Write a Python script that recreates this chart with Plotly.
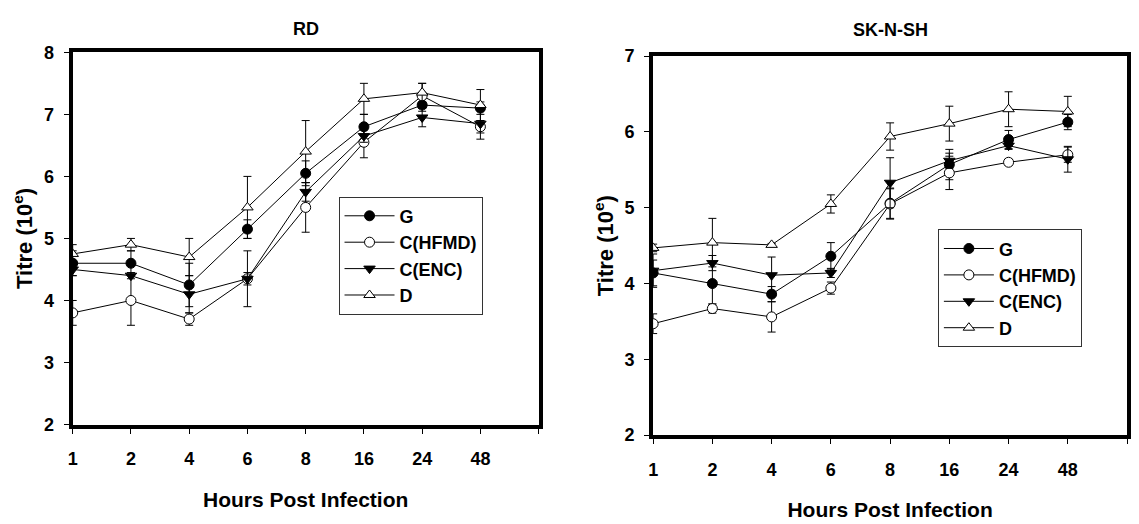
import plotly.graph_objects as go

# Sampling times (hours post infection)
hours = ["1", "2", "4", "6", "8", "16", "24", "48"]
positions = list(range(len(hours)))

# RD cells: mean titre and error per strain
rd_g = [4.6, 4.6, 4.25, 5.15, 6.05, 6.8, 7.15, 7.1]
rd_g_err = [0.2, 0.2, 0.35, 0.15, 0.2, 0.2, 0.1, 0.1]
rd_hfmd = [3.8, 4.0, 3.7, 4.35, 5.5, 6.55, 7.3, 6.8]
rd_hfmd_err = [0.2, 0.4, 0.1, 0.45, 0.4, 0.25, 0.2, 0.1]
rd_enc = [4.5, 4.4, 4.1, 4.35, 5.75, 6.65, 6.95, 6.85]
rd_enc_err = [0.1, 0.05, 0.3, 0.1, 0.15, 0.1, 0.15, 0.25]
rd_d = [4.75, 4.9, 4.7, 5.5, 6.4, 7.25, 7.35, 7.15]
rd_d_err = [0.15, 0.1, 0.3, 0.5, 0.5, 0.25, 0.15, 0.25]

# SK-N-SH cells: mean titre and error per strain
sk_g = [4.14, 4.0, 3.86, 4.36, 5.06, 5.57, 5.9, 6.13]
sk_g_err = [0.17, 0.27, 0.1, 0.18, 0.2, 0.2, 0.12, 0.1]
sk_hfmd = [3.47, 3.67, 3.56, 3.94, 5.05, 5.46, 5.6, 5.7]
sk_hfmd_err = [0.13, 0.06, 0.2, 0.08, 0.2, 0.22, 0.04, 0.1]
sk_enc = [4.17, 4.27, 4.11, 4.14, 5.33, 5.62, 5.82, 5.64]
sk_enc_err = [0.22, 0.1, 0.24, 0.06, 0.33, 0.1, 0.05, 0.17]
sk_d = [4.47, 4.54, 4.51, 5.05, 5.94, 6.11, 6.3, 6.27]
sk_d_err = [0.05, 0.32, 0.02, 0.12, 0.18, 0.23, 0.23, 0.2]

series_names = ["G", "C(HFMD)", "C(ENC)", "D"]
symbols = ["circle", "circle", "triangle-down", "triangle-up"]
fills = ["black", "white", "black", "white"]

FONT = "Liberation Sans, Arial, sans-serif"

fig = go.Figure()


def add_panel(values, errors, xa, ya, legend):
    for name, v, e, sym, fill in zip(series_names, values, errors, symbols, fills):
        fig.add_trace(go.Scatter(
            x=positions, y=v, name=name, mode="lines+markers",
            xaxis=xa, yaxis=ya, legend=legend,
            line=dict(color="black", width=1),
            marker=dict(symbol=sym, size=10, color=fill,
                        line=dict(color="black", width=1)),
            error_y=dict(type="data", array=e, visible=True,
                         color="black", thickness=1, width=4),
        ))


add_panel([rd_g, rd_hfmd, rd_enc, rd_d],
          [rd_g_err, rd_hfmd_err, rd_enc_err, rd_d_err], "x", "y", "legend")
add_panel([sk_g, sk_hfmd, sk_enc, sk_d],
          [sk_g_err, sk_hfmd_err, sk_enc_err, sk_d_err], "x2", "y2", "legend2")

W, H = 1139, 524
left_dom_x = [68 / W, 536 / W]
left_dom_y = [(H - 431) / H, (H - 44) / H]
right_dom_x = [651 / W, 1127 / W]
right_dom_y = [(H - 442) / H, (H - 48) / H]

tick_font = dict(family=FONT, size=18, color="black", weight="bold")
xtitle = dict(text="Hours Post Infection", standoff=25,
              font=dict(family=FONT, size=21, color="black", weight="bold"))
ytitle = dict(text="Titre (10<sup>e</sup>)", standoff=6,
              font=dict(family=FONT, size=22, color="black", weight="bold"))

xaxis_common = dict(
    range=[0, 8], tickmode="array",
    tickvals=positions, ticktext=hours,
    ticks="outside", ticklen=5, tickwidth=1, tickcolor="black",
    minor=dict(tickvals=[8], ticks="outside", ticklen=5, tickwidth=1,
               tickcolor="black", showgrid=False),
    ticklabelstandoff=10,
    showgrid=False, zeroline=False,
    showline=True, linecolor="black", linewidth=4, mirror=True,
    tickfont=tick_font, fixedrange=True, title=xtitle,
)
yaxis_common = dict(
    ticks="outside", ticklen=5, tickwidth=1, tickcolor="black",
    ticklabelstandoff=6, dtick=1,
    showgrid=False, zeroline=False,
    showline=True, linecolor="black", linewidth=4, mirror=True,
    tickfont=tick_font, fixedrange=True, title=ytitle,
)

legend_common = dict(
    font=dict(family=FONT, size=18, color="black", weight="bold"),
    bgcolor="white", bordercolor="#333", borderwidth=1,
    xanchor="left", yanchor="top", itemwidth=50,
)

fig.update_layout(
    width=W, height=H,
    margin=dict(l=0, r=0, t=0, b=0),
    paper_bgcolor="white", plot_bgcolor="white",
    xaxis=dict(domain=left_dom_x, anchor="y", **xaxis_common),
    yaxis=dict(domain=left_dom_y, anchor="x", range=[2, 8], **yaxis_common),
    xaxis2=dict(domain=right_dom_x, anchor="y2", **xaxis_common),
    yaxis2=dict(domain=right_dom_y, anchor="x2", range=[2, 7], **yaxis_common),
    legend=dict(x=335 / W, y=(H - 194) / H, **legend_common),
    legend2=dict(x=937 / W, y=(H - 228) / H, **legend_common),
)

title_font = dict(family=FONT, size=18, color="black", weight="bold")


def label(text, x, y, font):
    fig.add_annotation(
        text=text, x=x / W, y=(H - y) / H, xref="paper", yref="paper",
        showarrow=False, font=font, xanchor="center", yanchor="middle",
    )


# Panel titles
label("RD", 302, 20, title_font)
label("SK-N-SH", 889, 21, title_font)

fig.write_html("out.html")
